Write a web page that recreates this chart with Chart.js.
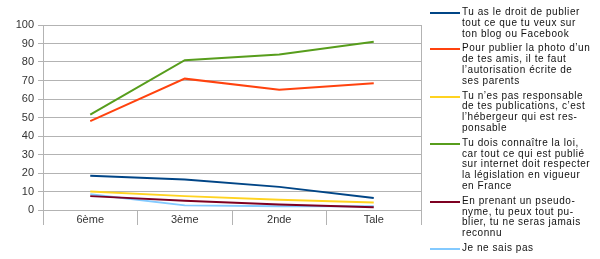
<!DOCTYPE html>
<html>
<head>
<meta charset="utf-8">
<script src="https://cdn.jsdelivr.net/npm/chart.js@4/dist/chart.umd.min.js"></script>
<style>
  html, body { margin: 0; padding: 0; background: #fff; }
  #wrap { position: relative; width: 600px; height: 259px; }
  #legende { position: absolute; left: 430px; top: 7px; font-family: "Liberation Sans", Arial, sans-serif; font-size: 10px; line-height: 10.8px; letter-spacing: 0.55px; color: #111; }
  .item { position: relative; padding-left: 32px; margin-bottom: 4px; white-space: nowrap; }
  .item span { position: absolute; left: 0; top: 5px; width: 30px; height: 2px; }
</style>
</head>
<body>
<div id="wrap">
  <canvas id="grafiek" width="600" height="259"></canvas>
  <div id="legende"></div>
</div>
<script>
// categorieën en reeksen
const klassen = ['6ème', '3ème', '2nde', 'Tale'];

const labels = [
    ['Tu as le droit de publier', 'tout ce que tu veux sur', 'ton blog ou Facebook'],
    ['Pour publier la photo d\u2019un', 'de tes amis, il te faut', 'l\u2019autorisation écrite de', 'ses parents'],
    ['Tu n\u2019es pas responsable', 'de tes publications, c\u2019est', 'l\u2019hébergeur qui est res-', 'ponsable'],
    ['Tu dois connaître la loi,', 'car tout ce qui est publié', 'sur internet doit respecter', 'la législation en vigueur', 'en France'],
    ['En prenant un pseudo-', 'nyme, tu peux tout pu-', 'blier, tu ne seras jamais', 'reconnu'],
    ['Je ne sais pas']
];

const droitPublier = [18.5, 16.5, 12.5, 6.5];
const photoAmis = [48, 71, 65, 68.5];
const pasResponsable = [10, 7.5, 5.5, 4];
const connaitreLoi = [51.5, 81, 84, 91];
const pseudonyme = [7.5, 5, 3, 1.5];
const saisPas = [8.5, 2.5, 2, 2];

const kleuren = ['#004586', '#ff420e', '#ffd320', '#579d1c', '#7e0021', '#83caff'];
const reeksen = [droitPublier, photoAmis, pasResponsable, connaitreLoi, pseudonyme, saisPas];

const datasets = reeksen.map((r, i) => ({
    label: labels[i].join(' '),
    data: r,
    borderColor: kleuren[i],
    backgroundColor: kleuren[i],
    borderWidth: 2,
    pointRadius: 0,
    fill: false,
    tension: 0
}));

// rechterrand van het plotgebied
const rand = {
    id: 'rand',
    afterDraw(chart) {
        const c = chart.ctx, a = chart.chartArea;
        c.save();
        c.strokeStyle = '#b3b3b3';
        c.lineWidth = 1;
        c.beginPath();
        c.moveTo(Math.round(a.right) + 0.5, a.top);
        c.lineTo(Math.round(a.right) + 0.5, a.bottom);
        c.stroke();
        c.restore();
    }
};

new Chart(document.getElementById('grafiek'), {
    type: 'line',
    data: { labels: klassen, datasets: datasets },
    options: {
        responsive: false,
        animation: false,
        layout: { padding: { top: 25, right: 179, left: 0, bottom: 0 } },
        plugins: { legend: { display: false }, tooltip: { enabled: false } },
        scales: {
            x: {
                offset: true,
                grid: { offset: true, drawOnChartArea: false, tickLength: 15, color: '#b3b3b3' },
                border: { color: '#b3b3b3' },
                ticks: { padding: -12, color: '#333', font: { family: 'Liberation Sans', size: 11 } },
                afterFit: s => { s.height = 49; }
            },
            y: {
                min: 0,
                max: 100,
                ticks: { stepSize: 10, padding: 4, color: '#333', font: { family: 'Liberation Sans', size: 11 } },
                grid: { color: '#b3b3b3', tickLength: 5 },
                border: { color: '#b3b3b3' },
                afterFit: s => { s.width = 43; }
            }
        }
    },
    plugins: [rand]
});

// legenda met meerdere regels
const leg = document.getElementById('legende');
labels.forEach((tekst, i) => {
    const d = document.createElement('div');
    d.className = 'item';
    d.innerHTML = '<span style="background:' + kleuren[i] + '"></span>' + tekst.join('<br>');
    leg.appendChild(d);
});
</script>
</body>
</html>
